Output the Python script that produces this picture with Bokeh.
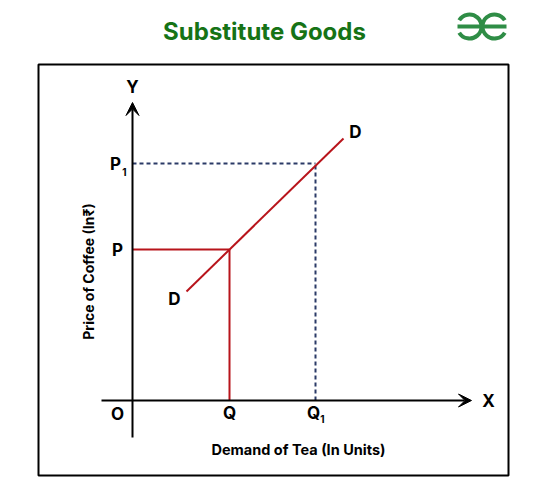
from bokeh.plotting import figure
from bokeh.models import Range1d, Arrow, VeeHead, Label
from bokeh.embed import file_html
from bokeh.resources import INLINE

# ---- data (economic diagram, origin O at 0,0) ----
price_names = ["P", "P1"]
price_levels = [151, 237]
quantity_names = ["Q", "Q1"]
quantity_levels = [97, 183]
demand_x = [54, 211]
demand_y = [109, 262]
title_text = "Substitute Goods"
x_label = "Demand of Tea (In Units)"
y_label = "Price of Coffee (In\u20b9)"

FONT = "Inter"
GREEN = "#167316"
LOGO = "#2f8d46"
RED = "#b8141b"
NAVY = "#2b3a67"

p = figure(width=523, height=480, output_backend="svg", toolbar_location=None,
           x_range=Range1d(-132, 391), y_range=Range1d(-80, 400),
           min_border=0, min_border_left=0, min_border_right=0,
           min_border_top=0, min_border_bottom=0)
p.axis.visible = False
p.xgrid.visible = False
p.ygrid.visible = False
p.outline_line_color = None
p.background_fill_color = "white"
p.border_fill_color = "white"

# frame box
p.quad(left=[-94], right=[376], bottom=[-75], top=[336], fill_color=None,
       line_color="black", line_width=2)

# axes with arrows
p.add_layout(Arrow(end=VeeHead(size=13, fill_color="black", line_color="black", line_width=1),
                   x_start=-31, y_start=0, x_end=339, y_end=0, line_width=2, line_color="black"))
p.add_layout(Arrow(end=VeeHead(size=13, fill_color="black", line_color="black", line_width=1),
                   x_start=0, y_start=-37, x_end=0, y_end=298, line_width=2, line_color="black"))

P, P1 = price_levels
Q, Q1 = quantity_levels

# red guide lines for (Q, P)
p.segment(x0=[0, Q], y0=[P, 0], x1=[Q, Q], y1=[P, P], line_color=RED, line_width=2)
# dashed guide lines for (Q1, P1)
p.segment(x0=[0, Q1], y0=[P1, 0], x1=[Q1, Q1], y1=[P1, P1], line_color=NAVY,
          line_width=2, line_dash="4 3")
# demand curve
p.line(demand_x, demand_y, line_color=RED, line_width=2)

def lab(x, y, t, size="17px", align="center", baseline="middle", color="black", angle=0):
    p.add_layout(Label(x=x, y=y, text=t, text_font=FONT, text_font_style="bold",
                       text_font_size=size, text_align=align, text_baseline=baseline,
                       text_color=color, angle=angle))

# point labels
lab(-15, P, price_names[0])
lab(-17, P1, "P")
lab(-8, P1 - 8, "1", size="10px")
lab(Q, -12, quantity_names[0])
lab(Q1 - 2, -12, "Q")
lab(Q1 + 7, -18, "1", size="10px")
lab(-15, -13, "O")
lab(0, 314, "Y")
lab(356, 0, "X")
lab(demand_x[0] - 12, demand_y[0] - 7, "D")
lab(demand_x[1] + 12, demand_y[1] + 7, "D")

# axis titles
lab(166, -49, x_label, size="14.5px")
lab(-44, 129, y_label, size="14px", angle=1.5708)

# title
lab(132, 369, title_text, size="24px", color=GREEN)

# logo (two mirrored arcs sharing a bar)
r = 12
p.arc(x=[337], y=[374], radius=r, radius_units="screen", start_angle=-2.6,
      end_angle=2.6, direction="anticlock", line_color=LOGO, line_width=4)
p.arc(x=[362], y=[374], radius=r, radius_units="screen", start_angle=0.54,
      end_angle=-0.54, direction="anticlock", line_color=LOGO, line_width=4)
p.segment(x0=[325], y0=[374], x1=[374], y1=[374], line_color=LOGO, line_width=4)

open("out.html", "w").write(file_html(p, INLINE))
